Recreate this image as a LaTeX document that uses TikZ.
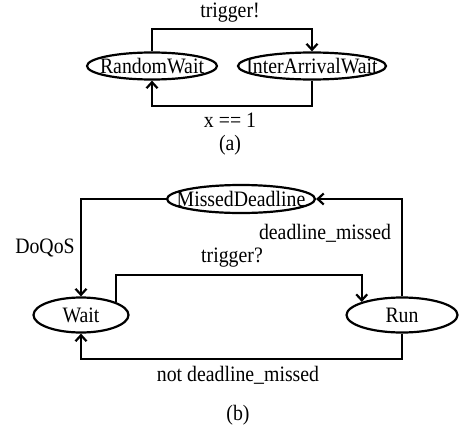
\documentclass[tikz,border=0pt]{standalone}
\usepackage{fontspec}
\setmainfont[FakeStretch=0.9]{Liberation Serif}
\usetikzlibrary{shapes.geometric,arrows.meta}
\begin{document}
\begin{tikzpicture}[x=1pt,y=-1pt,
  state/.style={draw,ellipse,line width=2.2pt,inner xsep=-40pt,inner ysep=-10pt,font=\fontsize{22}{24}\selectfont},
  lbl/.style={font=\fontsize{22}{24}\selectfont,inner sep=0pt},
  arr/.style={line width=2.2pt,-{Straight Barb[length=6pt,width=11pt]}}]
\useasboundingbox (0,0) rectangle (462,428);
% (a)
\node[state,minimum width=130pt,minimum height=27pt] (rw) at (152,66) {RandomWait};
\node[state,minimum width=148pt,minimum height=27pt] (iaw) at (312,66) {InterArrivalWait};
\coordinate (ta) at (0,29);
\draw[arr] (rw.north) -- (rw.north |- ta) -| (iaw.north);
\draw[arr] (iaw.south) -- ++(0,25) -| (rw.south);
\node[lbl] (l1) at (230,13) {trigger!};
\node[lbl] (l2) at (230,120) {x == 1};
\node[lbl] (ca) at (230,145) {(a)};
% (b)
\node[state,minimum width=148pt,minimum height=28pt] (md) at (241,199) {MissedDeadline};
\node[state,minimum width=95pt,minimum height=35pt] (wt) at (81,315) {Wait};
\node[state,minimum width=111pt,minimum height=35pt] (run) at (402,315) {Run};
\draw[arr] (md.west) -| (wt.north);
\draw[arr] (run.north) |- (md.east);
\coordinate (tq) at (0,275);
\draw[arr] (wt.20) -- (wt.20 |- tq) -| (run.162);
\draw[arr] (run.south) -- ++(0,25.5) -| (wt.south);
\node[lbl] (l3) at (45,248) {DoQoS};
\node[lbl] (l4) at (325,233) {deadline\textunderscore missed};
\node[lbl] (l5) at (232,258) {trigger?};
\node[lbl] (l6) at (238,375) {not deadline\textunderscore missed};
\node[lbl] (cb) at (238,415) {(b)};
\end{tikzpicture}
\end{document}
